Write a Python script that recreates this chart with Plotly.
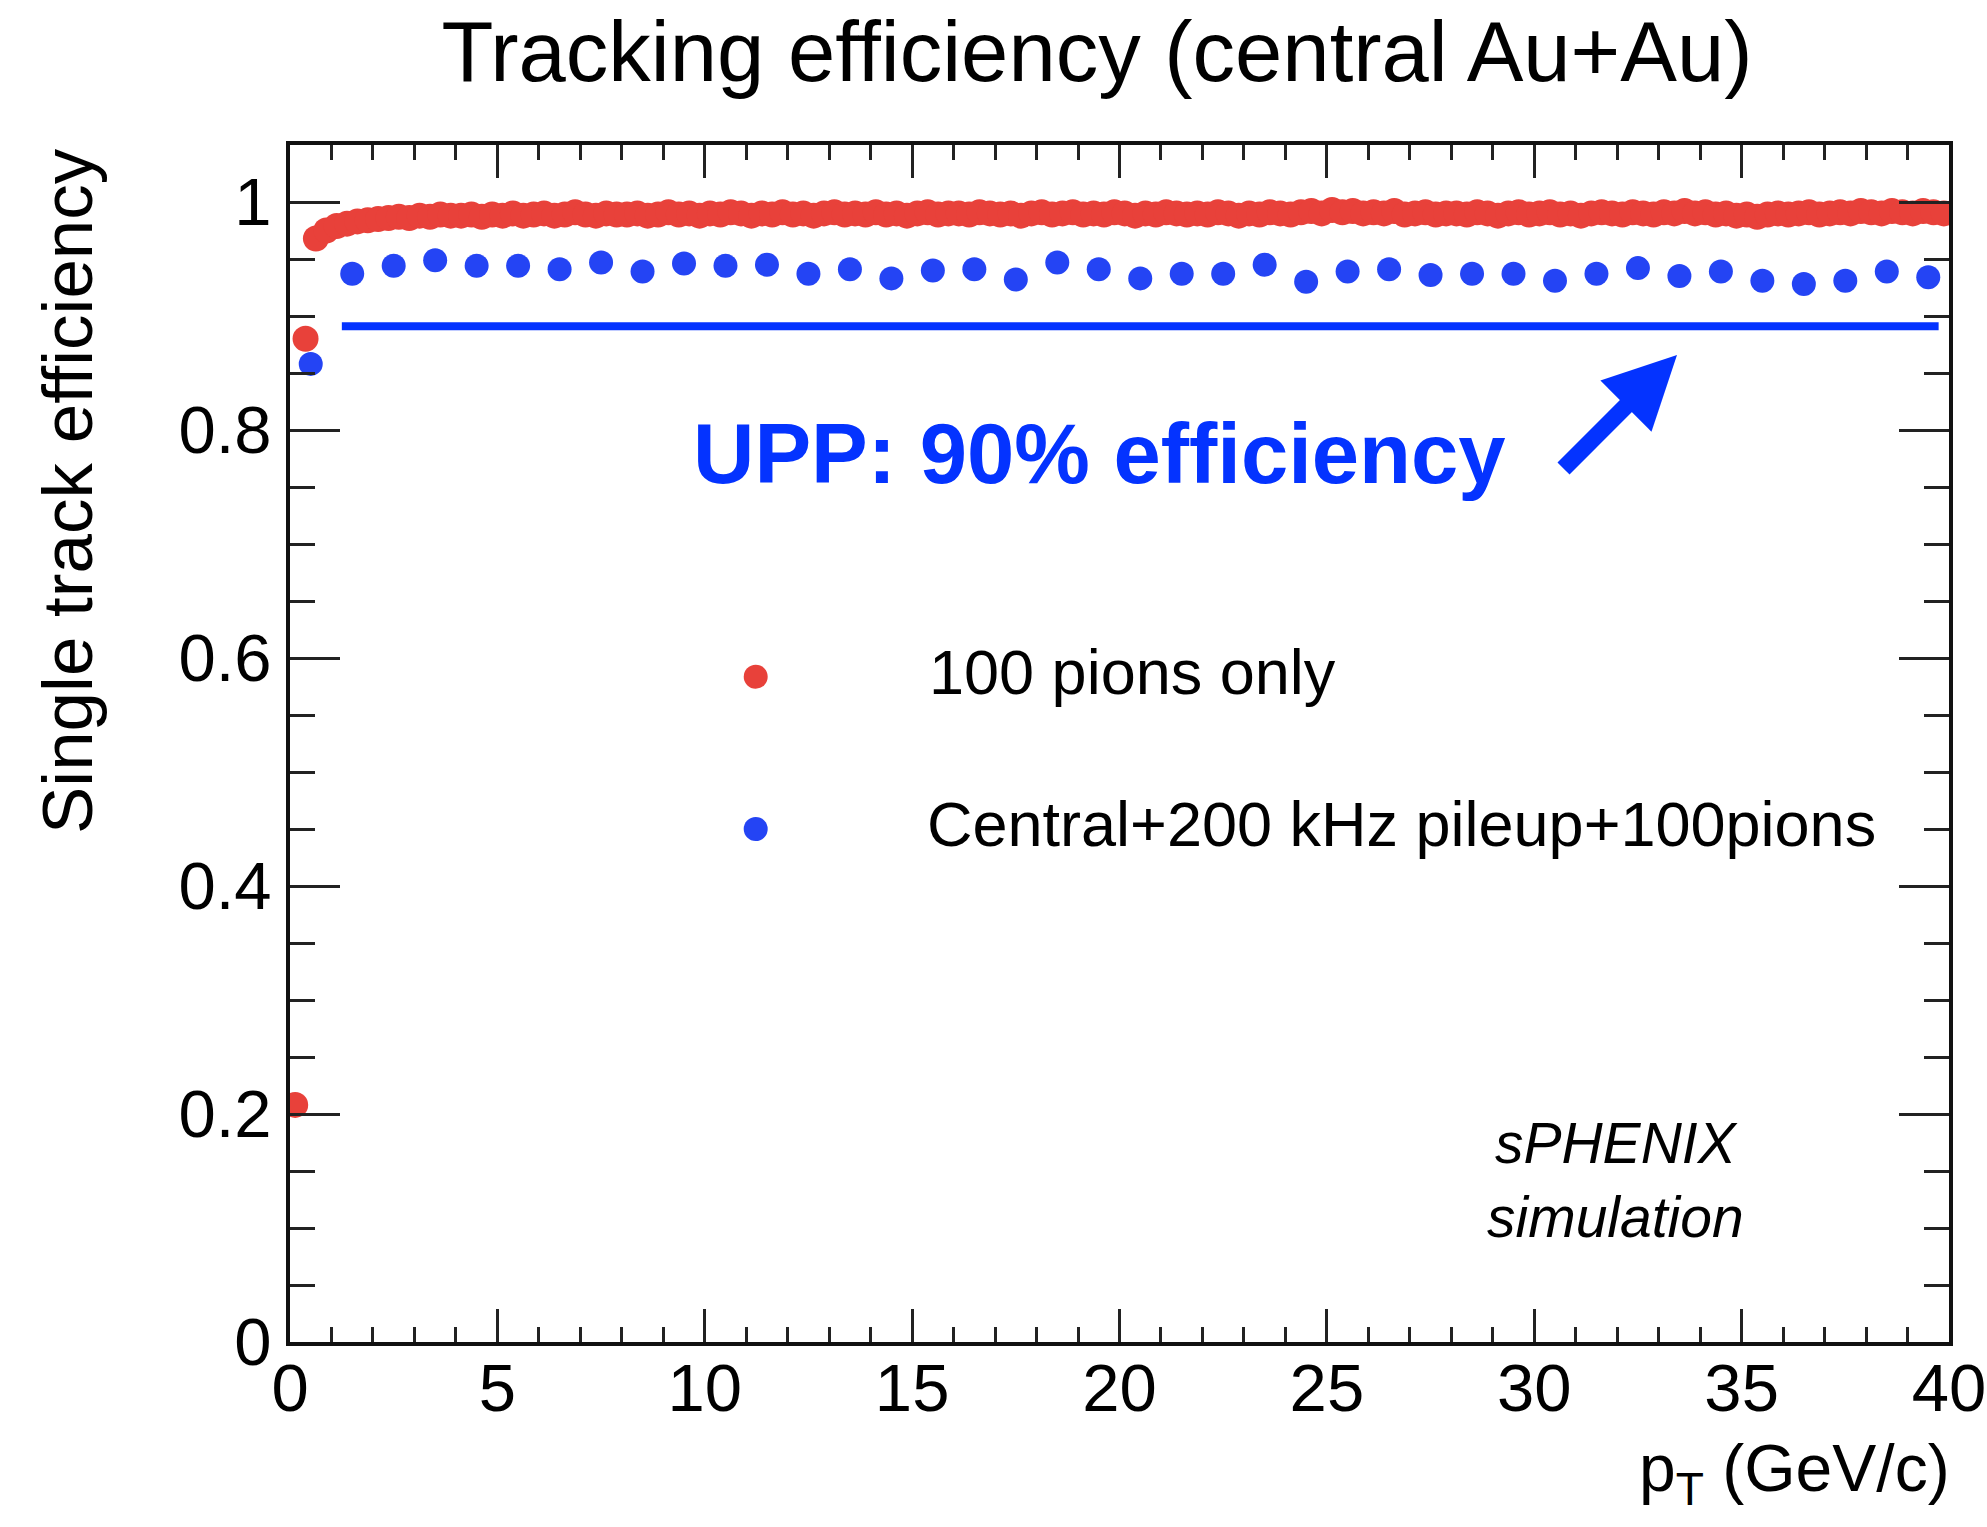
import numpy as np
import plotly.graph_objects as go

# ---------------- data ----------------
# "100 pions only": 0.25 GeV/c bins, centres 0.125 ... 39.875
red_bin_width = 0.25
red_eff = [
    0.208, 0.880, 0.968, 0.975, 0.979, 0.981, 0.983, 0.984,
    0.985, 0.986, 0.987, 0.986, 0.988, 0.987, 0.989, 0.988,
    0.988, 0.989, 0.987, 0.989, 0.988, 0.990, 0.988, 0.989,
    0.990, 0.988, 0.989, 0.991, 0.989, 0.988, 0.990, 0.989,
    0.989, 0.990, 0.988, 0.989, 0.991, 0.989, 0.990, 0.988,
    0.990, 0.989, 0.991, 0.990, 0.988, 0.990, 0.989, 0.991,
    0.989, 0.990, 0.988, 0.990, 0.991, 0.989, 0.990, 0.989,
    0.991, 0.989, 0.990, 0.988, 0.990, 0.991, 0.989, 0.990,
    0.990, 0.989, 0.991, 0.990, 0.989, 0.990, 0.988, 0.990,
    0.991, 0.989, 0.990, 0.991, 0.989, 0.990, 0.989, 0.991,
    0.990, 0.988, 0.990, 0.989, 0.991, 0.990, 0.989, 0.990,
    0.989, 0.991, 0.990, 0.988, 0.990, 0.989, 0.991, 0.990,
    0.989, 0.991, 0.992, 0.990, 0.993, 0.991, 0.992, 0.990,
    0.991, 0.990, 0.992, 0.989, 0.990, 0.991, 0.989, 0.990,
    0.990, 0.989, 0.991, 0.990, 0.988, 0.990, 0.991, 0.989,
    0.990, 0.991, 0.989, 0.990, 0.988, 0.990, 0.991, 0.990,
    0.989, 0.991, 0.990, 0.989, 0.991, 0.990, 0.992, 0.990,
    0.991, 0.989, 0.990, 0.988, 0.989, 0.987, 0.989, 0.990,
    0.989, 0.990, 0.991, 0.989, 0.990, 0.991, 0.990, 0.992,
    0.991, 0.990, 0.992, 0.991, 0.990, 0.992, 0.991, 0.990,
]
red_pt = (np.arange(len(red_eff)) + 0.5) * red_bin_width

# "Central+200 kHz pileup+100pions": 1 GeV/c bins, centres 0.5 ... 39.5
blue_bin_width = 1.0
blue_eff = [
    0.858, 0.937, 0.944, 0.949, 0.944, 0.944, 0.941, 0.947, 0.939, 0.946,
    0.944, 0.945, 0.937, 0.941, 0.933, 0.940, 0.941, 0.932, 0.947, 0.941,
    0.933, 0.937, 0.937, 0.945, 0.930, 0.939, 0.941, 0.936, 0.937, 0.937,
    0.931, 0.937, 0.942, 0.935, 0.939, 0.931, 0.928, 0.931, 0.939, 0.934,
]
blue_pt = (np.arange(len(blue_eff)) + 0.5) * blue_bin_width

# UPP requirement line
upp_x = [1.25, 39.75]
upp_y = [0.891, 0.891]

series_names = ["100 pions only", "Central+200 kHz pileup+100pions"]
x_range = [0, 40]
y_range = [0, 1.05]

RED = "#E8413A"
BLUE_DOT = "#2444F4"
BLUE = "#0433FF"
FONT = "Liberation Sans, Arial, Helvetica, sans-serif"

W, H = 1987, 1527
ML, MR, MT, MB = 290, 38, 145, 185
PW, PH = W - ML - MR, H - MT - MB


def xp(px):
    return (px - ML) / PW


def yp(py):
    return 1 - (py - MT) / PH


fig = go.Figure()
fig.add_trace(go.Scatter(
    x=red_pt, y=red_eff, mode="markers", name=series_names[0],
    marker=dict(color=RED, size=26, line=dict(width=0)), showlegend=False))
fig.add_trace(go.Scatter(
    x=blue_pt, y=blue_eff, mode="markers", name=series_names[1],
    marker=dict(color=BLUE_DOT, size=24, line=dict(width=0)), showlegend=False))
fig.add_trace(go.Scatter(
    x=upp_x, y=upp_y, mode="lines", line=dict(color=BLUE, width=8),
    showlegend=False, hoverinfo="skip"))

axis_common = dict(
    showgrid=False, zeroline=False, showline=True, linecolor="#111111",
    linewidth=4, mirror="allticks", ticks="inside", tickcolor="#222222",
    tickwidth=3, tickfont=dict(family=FONT, size=67, color="#000000"),
    automargin=False,
)
fig.update_xaxes(range=x_range, dtick=5, tick0=0, ticklen=33,
                 minor=dict(ticks="inside", dtick=1, ticklen=15,
                            tickwidth=3, tickcolor="#222222"),
                 ticklabelstandoff=-15, **axis_common)
fig.update_yaxes(range=y_range, dtick=0.2, tick0=0, ticklen=50,
                 minor=dict(ticks="inside", dtick=0.05, ticklen=25,
                            tickwidth=3, tickcolor="#222222"),
                 ticklabelstandoff=1, **axis_common)

annotations = [
    dict(text="UPP: 90% efficiency", xref="paper", yref="paper",
         x=xp(691), y=yp(453.5), xanchor="left", yanchor="middle",
         showarrow=False, font=dict(family=FONT, size=85, color=BLUE,
                                    weight="bold")),
    dict(text="", xref="x", yref="y", x=(1677 - ML) / PW * 40,
         y=(MT + PH - 355) / PH * 1.05, ax=-115, ay=115, axref="pixel",
         ayref="pixel", showarrow=True, arrowhead=2, arrowwidth=17,
         arrowsize=0.85, arrowcolor=BLUE),
    dict(text=series_names[0], xref="paper", yref="paper", x=xp(927),
         y=yp(671.5), xanchor="left", yanchor="middle", showarrow=False,
         font=dict(family=FONT, size=63, color="#000000")),
    dict(text=series_names[1], xref="paper", yref="paper", x=xp(925),
         y=yp(824), xanchor="left", yanchor="middle", showarrow=False,
         font=dict(family=FONT, size=63, color="#000000")),
    dict(text="<i>sPHENIX<br>simulation</i>", xref="paper", yref="paper",
         x=xp(1615), y=yp(1180), xanchor="center", yanchor="middle",
         showarrow=False, font=dict(family=FONT, size=57, color="#000000")),
    dict(text="Single track efficiency", xref="paper", yref="paper",
         x=xp(67), y=yp(491), xanchor="center", yanchor="middle",
         textangle=-90, showarrow=False,
         font=dict(family=FONT, size=71, color="#000000")),
    dict(text="p<sub>T</sub> (GeV/c)", xref="paper", yref="paper",
         x=xp(1952), y=yp(1473), xanchor="right", yanchor="middle",
         showarrow=False, font=dict(family=FONT, size=66, color="#000000")),
]

shapes = []
for cy, col in [(676.7, RED), (829, BLUE_DOT)]:
    shapes.append(dict(type="circle", xref="paper", yref="paper",
                       xsizemode="pixel", ysizemode="pixel",
                       xanchor=xp(755.7), yanchor=yp(cy),
                       x0=-12, x1=12, y0=-12, y1=12,
                       fillcolor=col, line=dict(width=0)))

fig.update_layout(
    width=W, height=H,
    margin=dict(l=ML, r=MR, t=MT, b=MB),
    paper_bgcolor="white", plot_bgcolor="white",
    title=dict(text="Tracking efficiency (central Au+Au)",
               x=1097 / W, xanchor="center", xref="container",
               y=1 - 51.5 / H, yanchor="middle", yref="container",
               font=dict(family=FONT, size=85, color="#000000")),
    annotations=annotations, shapes=shapes, showlegend=False,
)

fig.write_html("out.html")
